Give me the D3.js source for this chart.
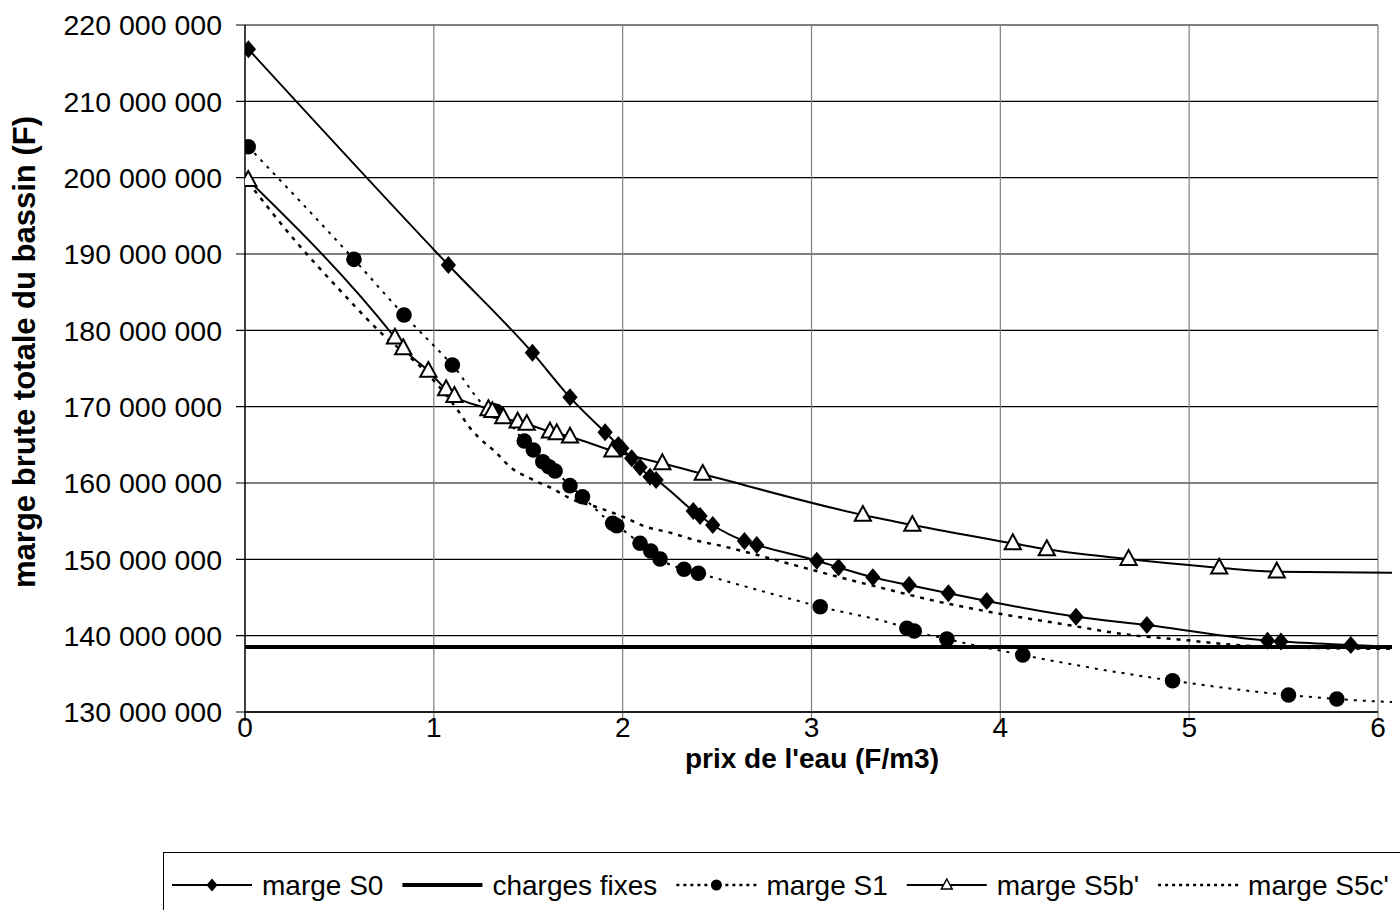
<!DOCTYPE html>
<html><head><meta charset="utf-8">
<script src="https://cdn.jsdelivr.net/npm/d3@7"></script>
<style>
body{margin:0;background:#fff}
svg{display:block}
text{font-family:"Liberation Sans",Arial,sans-serif;fill:#000}
</style>
</head><body>
<svg id="chart" width="1400" height="910"></svg>
<script>
// ---------- data ----------
const xTicks = [0, 1, 2, 3, 4, 5, 6];
const yTicks = [130e6, 140e6, 150e6, 160e6, 170e6, 180e6, 190e6, 200e6, 210e6, 220e6];
const xTitle = "prix de l'eau (F/m3)";
const yTitle = "marge brute totale du bassin (F)";
const seriesNames = ["marge S0", "charges fixes", "marge S1", "marge S5b'", "marge S5c'"];

const s0X = [0.018, 1.077, 1.522, 1.721, 1.907, 1.977, 1.995, 2.048, 2.092, 2.145, 2.177, 2.374, 2.41, 2.477, 2.645, 2.71, 3.028, 3.143, 3.325, 3.517, 3.725, 3.928, 4.401, 4.776, 5.415, 5.486, 5.856, 6.3];
const s0Y = [216.82e6, 188.56e6, 177.07e6, 171.22e6, 166.64e6, 164.98e6, 164.55e6, 163.23e6, 162.05e6, 160.82e6, 160.39e6, 156.33e6, 155.68e6, 154.5e6, 152.4e6, 151.88e6, 149.82e6, 148.95e6, 147.64e6, 146.63e6, 145.55e6, 144.54e6, 142.48e6, 141.39e6, 139.34e6, 139.22e6, 138.77e6, 138.3e6];

const chargesX = [0, 6.3];
const chargesY = [138.5e6, 138.5e6];

const s1X = [0.017, 0.577, 0.842, 1.098, 1.31, 1.33, 1.479, 1.527, 1.577, 1.61, 1.642, 1.721, 1.787, 1.947, 1.969, 2.092, 2.149, 2.198, 2.325, 2.401, 3.046, 3.505, 3.544, 3.717, 4.119, 4.912, 5.526, 5.782, 6.3];
const s1Y = [204.06e6, 189.3e6, 182.0e6, 175.46e6, 169.5e6, 169.4e6, 165.5e6, 164.32e6, 162.79e6, 162.13e6, 161.57e6, 159.65e6, 158.2e6, 154.72e6, 154.4e6, 152.1e6, 151.09e6, 150.04e6, 148.7e6, 148.17e6, 143.79e6, 140.97e6, 140.61e6, 139.56e6, 137.46e6, 134.1e6, 132.22e6, 131.7e6, 131.08e6];

const s5bX = [0.017, 0.794, 0.838, 0.971, 1.065, 1.109, 1.289, 1.31, 1.368, 1.444, 1.492, 1.615, 1.651, 1.721, 1.946, 2.21, 2.424, 3.272, 3.534, 4.066, 4.246, 4.679, 5.159, 5.464, 6.3];
const s5bY = [199.69e6, 179.03e6, 177.64e6, 174.67e6, 172.27e6, 171.39e6, 169.65e6, 169.4e6, 168.6e6, 168.03e6, 167.73e6, 166.72e6, 166.5e6, 166.06e6, 164.23e6, 162.58e6, 161.18e6, 155.81e6, 154.5e6, 152.1e6, 151.31e6, 150.04e6, 148.9e6, 148.38e6, 148.2e6];

const s5cX = [0.017, 0.274, 0.486, 0.715, 0.971, 1.125, 1.192, 1.232, 1.329, 1.404, 1.518, 1.633, 1.72, 1.88, 2.0, 2.119, 2.251, 2.401, 2.516, 2.648, 2.886, 3.143, 3.381, 3.628, 3.946, 4.334, 4.652, 4.988, 5.235, 5.747, 6.3];
const s5cY = [199.4e6, 191.5e6, 185.7e6, 179.8e6, 174.2e6, 169.6e6, 167.2e6, 166.1e6, 164.0e6, 162.1e6, 160.5e6, 159.2e6, 158.0e6, 156.7e6, 155.6e6, 154.3e6, 153.5e6, 152.4e6, 151.8e6, 151.0e6, 149.4e6, 147.7e6, 146.2e6, 144.7e6, 143.1e6, 141.5e6, 140.2e6, 139.4e6, 138.8e6, 138.35e6, 138.25e6];

// ---------- layout ----------
const svg = d3.select("#chart");
const L = 245, R = 1378, T = 25, B = 712;
const x = d3.scaleLinear().domain([0, 6]).range([L, R]);
const y = d3.scaleLinear().domain([130e6, 220e6]).range([B, T]);
const loc = d3.formatLocale({decimal: ",", thousands: " ", grouping: [3], currency: ["", ""]});
const fmt = loc.format(",");
const FS = 28;

// gridlines
svg.append("g").selectAll("line").data(yTicks).join("line")
  .attr("x1", L - 9).attr("x2", R).attr("y1", d => y(d)).attr("y2", d => y(d))
  .attr("stroke", "#000").attr("stroke-width", 1.2);
svg.append("g").selectAll("line").data(xTicks.filter(d => d > 0)).join("line")
  .attr("x1", d => x(d)).attr("x2", d => x(d)).attr("y1", T).attr("y2", B + 9)
  .attr("stroke", "#7f7f7f").attr("stroke-width", 1.2);

// axes
svg.append("line").attr("x1", L).attr("x2", L).attr("y1", T).attr("y2", B + 9).attr("stroke", "#000").attr("stroke-width", 1.5);
svg.append("line").attr("x1", L).attr("x2", R).attr("y1", B).attr("y2", B).attr("stroke", "#000").attr("stroke-width", 1.5);

// tick labels
svg.append("g").selectAll("text").data(yTicks).join("text")
  .attr("x", L - 23).attr("y", d => y(d)).attr("dy", "0.36em")
  .attr("text-anchor", "end").attr("font-size", 28.5).text(d => fmt(d));
svg.append("g").selectAll("text").data(xTicks).join("text")
  .attr("x", d => x(d)).attr("y", 737)
  .attr("text-anchor", "middle").attr("font-size", FS).text(d => d);

// titles
svg.append("text").attr("x", 812).attr("y", 768).attr("text-anchor", "middle")
  .attr("font-size", FS).attr("font-weight", "bold").text(xTitle);
svg.append("text").attr("transform", `translate(35,352) rotate(-90)`)
  .attr("text-anchor", "middle").attr("font-size", 31).attr("font-weight", "bold").text(yTitle);

// clip
svg.append("defs").append("clipPath").attr("id", "clip")
  .append("rect").attr("x", L).attr("y", T - 15).attr("width", 1392 - L).attr("height", B - T + 30);

const plot = svg.append("g").attr("clip-path", "url(#clip)");
const zip = (xs, ys) => xs.map((v, i) => [v, ys[i]]);
const line = d3.line().x(d => x(d[0])).y(d => y(d[1])).curve(d3.curveMonotoneX);

const S0 = zip(s0X, s0Y), CF = zip(chargesX, chargesY), S1 = zip(s1X, s1Y), S5b = zip(s5bX, s5bY), S5c = zip(s5cX, s5cY);

plot.append("path").datum(CF).attr("d", line).attr("fill", "none").attr("stroke", "#000").attr("stroke-width", 4);
plot.append("path").datum(S5c).attr("d", line).attr("fill", "none").attr("stroke", "#000").attr("stroke-width", 2.5).attr("stroke-dasharray", "4,6");
plot.append("path").datum(S1).attr("d", line).attr("fill", "none").attr("stroke", "#000").attr("stroke-width", 2).attr("stroke-dasharray", "3,6");
plot.append("path").datum(S5b).attr("d", line).attr("fill", "none").attr("stroke", "#000").attr("stroke-width", 2);
plot.append("path").datum(S0).attr("d", line).attr("fill", "none").attr("stroke", "#000").attr("stroke-width", 2);

const diamond = s => `M0,${-s}L${s * 0.85},0L0,${s}L${-s * 0.85},0Z`;
const tri = s => `M0,${-s}L${s * 0.9},${s * 0.65}L${-s * 0.9},${s * 0.65}Z`;

plot.append("g").selectAll("circle").data(S1).join("circle")
  .attr("cx", d => x(d[0])).attr("cy", d => y(d[1])).attr("r", 7.8).attr("fill", "#000");
plot.append("g").selectAll("path").data(S5b).join("path")
  .attr("transform", d => `translate(${x(d[0])},${y(d[1])})`).attr("d", tri(9))
  .attr("fill", "#fff").attr("stroke", "#000").attr("stroke-width", 2);
plot.append("g").selectAll("path").data(S0).join("path")
  .attr("transform", d => `translate(${x(d[0])},${y(d[1])})`).attr("d", diamond(9))
  .attr("fill", "#000");

// legend
const lg = svg.append("g");
lg.append("rect").attr("x", 163.5).attr("y", 852.5).attr("width", 1300).attr("height", 80)
  .attr("fill", "#fff").attr("stroke", "#000").attr("stroke-width", 1);
const ly = 885;
const styles = [
  {w: 2, dash: null, mk: "diamond"},
  {w: 4, dash: null, mk: null},
  {w: 2.5, dash: "3,4", mk: "circle"},
  {w: 2, dash: null, mk: "tri"},
  {w: 2.5, dash: "3,4", mk: null}
];
let cx = 172;
seriesNames.forEach((name, i) => {
  const st = styles[i];
  const sw = 80;
  lg.append("line").attr("x1", cx).attr("x2", cx + sw).attr("y1", ly).attr("y2", ly)
    .attr("stroke", "#000").attr("stroke-width", st.w).attr("stroke-dasharray", st.dash);
  const mx = cx + sw / 2;
  if (st.mk === "diamond") lg.append("path").attr("transform", `translate(${mx},${ly})`).attr("d", diamond(6.5)).attr("fill", "#000");
  if (st.mk === "circle") lg.append("circle").attr("cx", mx).attr("cy", ly).attr("r", 5.5).attr("fill", "#000");
  if (st.mk === "tri") lg.append("path").attr("transform", `translate(${mx},${ly})`).attr("d", tri(6)).attr("fill", "#fff").attr("stroke", "#000").attr("stroke-width", 1.5);
  const t = lg.append("text").attr("x", cx + sw + 10).attr("y", ly + 10).attr("font-size", FS).text(name);
  cx += sw + 10 + t.node().getComputedTextLength() + 19;
});
</script>
</body></html>
